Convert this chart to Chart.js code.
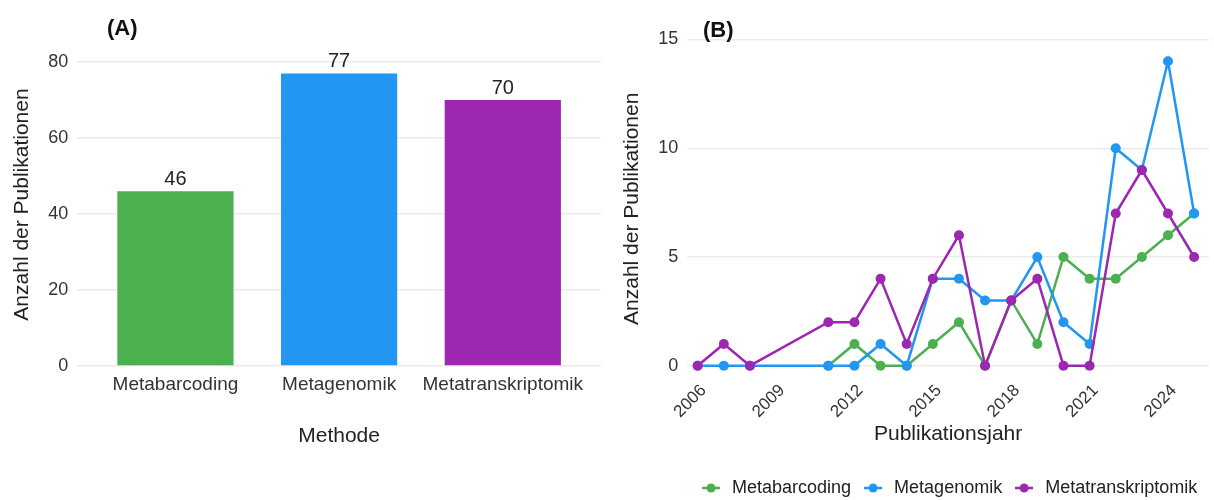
<!DOCTYPE html>
<html>
<head>
<meta charset="utf-8">
<script src="https://cdn.jsdelivr.net/npm/chart.js@4"></script>
<style>
  body { margin: 0; background: #fff; width: 1214px; height: 500px; position: relative; overflow: hidden; }
  .panel { position: absolute; top: 0; height: 500px; }
  .tag { position: absolute; font: bold 22px/1 'Liberation Sans', Arial, sans-serif; color: #111; }
</style>
</head>
<body>
<div class="panel" style="left:0;width:610px"><canvas id="chartA"></canvas></div>
<div class="panel" style="left:610px;width:604px"><canvas id="chartB"></canvas></div>
<div class="tag" style="left:107px;top:17px">(A)</div>
<div class="tag" style="left:703px;top:19px">(B)</div>
<script>
// Panel A: Gesamtzahl je Methode
const methods = ['Metabarcoding', 'Metagenomik', 'Metatranskriptomik'];
const methodCounts = [46, 77, 70];
const methodColors = ['#4CAF50', '#2196F3', '#9C27B0'];

// Panel B: Publikationen pro Jahr (2009/2010 ohne Daten)
const years = [2006, 2007, 2008, 2011, 2012, 2013, 2014, 2015, 2016, 2017, 2018, 2019, 2020, 2021, 2022, 2023, 2024, 2025];
const metabarcoding = [null, null, null, 0, 1, 0, 0, 1, 2, 0, 3, 1, 5, 4, 4, 5, 6, 7];
const metagenomik = [0, 0, 0, 0, 0, 1, 0, 4, 4, 3, 3, 5, 2, 1, 10, 9, 14, 7];
const metatranskriptomik = [0, 1, 0, 2, 2, 4, 1, 4, 6, 0, 3, 4, 0, 0, 7, 9, 7, 5];
const yearTicks = [2006, 2009, 2012, 2015, 2018, 2021, 2024];

Chart.defaults.font.family = "'Liberation Sans', Arial, sans-serif";
Chart.defaults.color = '#333';

const gridColor = '#ebebeb';
const titleColor = '#222';

// Werte über den Balken
const barLabels = {
    id: 'barLabels',
    afterDatasetsDraw(chart) {
        const ctx = chart.ctx;
        const meta = chart.getDatasetMeta(0);
        ctx.save();
        ctx.font = "20px 'Liberation Sans', Arial, sans-serif";
        ctx.fillStyle = '#222';
        ctx.textAlign = 'center';
        ctx.textBaseline = 'alphabetic';
        meta.data.forEach((bar, i) => {
            ctx.fillText(methodCounts[i], bar.x, bar.y - 6);
        });
        ctx.restore();
    }
};

new Chart(document.getElementById('chartA'), {
    type: 'bar',
    data: {
        datasets: [{
            data: methodCounts.map((v, i) => ({ x: i + 1, y: v })),
            backgroundColor: methodColors,
            categoryPercentage: 1,
            barPercentage: 0.71
        }]
    },
    options: {
        responsive: true,
        maintainAspectRatio: false,
        animation: false,
        layout: { padding: { left: 6, right: 9, top: 43, bottom: 47 } },
        plugins: { legend: { display: false }, tooltip: { enabled: false } },
        scales: {
            x: {
                type: 'linear',
                offset: false,
                min: 0.4,
                max: 3.6,
                afterBuildTicks: (scale) => { scale.ticks = methods.map((m, i) => ({ value: i + 1 })); },
                ticks: { callback: (v) => methods[v - 1], font: { size: 19 }, padding: 7, maxRotation: 0, autoSkip: false },
                grid: { display: false, drawTicks: false },
                border: { display: false },
                title: { display: true, text: 'Methode', color: titleColor, font: { size: 21 }, padding: { top: 21, bottom: 4 } }
            },
            y: {
                min: 0,
                max: 85,
                afterBuildTicks: (scale) => { scale.ticks = [0, 20, 40, 60, 80].map(v => ({ value: v })); },
                ticks: { font: { size: 18 }, padding: 9 },
                grid: { color: gridColor, lineWidth: 1.5, drawTicks: false },
                border: { display: false },
                title: { display: true, text: 'Anzahl der Publikationen', color: titleColor, font: { size: 21 }, padding: { top: 4, bottom: 4 } }
            }
        }
    },
    plugins: [barLabels]
});

// Legendensymbol wie bei ggplot: kurze Linie mit Punkt
function legendKey(color) {
    const c = document.createElement('canvas');
    c.width = 18;
    c.height = 12;
    const g = c.getContext('2d');
    g.strokeStyle = color;
    g.lineWidth = 2.5;
    g.beginPath();
    g.moveTo(0, 6);
    g.lineTo(18, 6);
    g.stroke();
    g.fillStyle = color;
    g.beginPath();
    g.arc(9, 6, 4.5, 0, Math.PI * 2);
    g.fill();
    return c;
}

function series(label, values, color, order) {
    return {
        label: label,
        data: years.map((y, i) => ({ x: y, y: values[i] })),
        borderColor: color,
        backgroundColor: color,
        pointBackgroundColor: color,
        borderWidth: 2.5,
        pointRadius: 5,
        pointBorderWidth: 0,
        spanGaps: true,
        tension: 0,
        order: order
    };
}

const lineColors = ['#4CAF50', '#2196F3', '#9C27B0'];
const keys = lineColors.map(legendKey);

new Chart(document.getElementById('chartB'), {
    type: 'line',
    data: {
        datasets: [
            series('Metabarcoding', metabarcoding, lineColors[0], 3),
            series('Metagenomik', metagenomik, lineColors[1], 2),
            series('Metatranskriptomik', metatranskriptomik, lineColors[2], 1)
        ]
    },
    options: {
        responsive: true,
        maintainAspectRatio: false,
        animation: false,
        layout: { padding: { left: 6, right: 3, top: 33, bottom: -7 } },
        plugins: {
            tooltip: { enabled: false },
            legend: {
                position: 'bottom',
                fullSize: false,
                labels: {
                    usePointStyle: true,
                    pointStyleWidth: 24,
                    boxHeight: 12,
                    padding: 10,
                    color: '#222',
                    font: { size: 18 },
                    generateLabels: (chart) => Chart.defaults.plugins.legend.labels.generateLabels(chart)
                        .map(item => Object.assign(item, { pointStyle: keys[item.datasetIndex] })),
                    sort: (a, b) => a.datasetIndex - b.datasetIndex
                }
            }
        },
        scales: {
            x: {
                type: 'linear',
                min: 2005.6,
                max: 2025.57,
                afterBuildTicks: (scale) => { scale.ticks = yearTicks.map(v => ({ value: v })); },
                ticks: { callback: (v) => String(v), font: { size: 17 }, padding: -4, labelOffset: 6, minRotation: 45, maxRotation: 45, autoSkip: false },
                grid: { display: false, drawTicks: false },
                border: { display: false },
                title: { display: true, text: 'Publikationsjahr', color: titleColor, font: { size: 21 }, padding: { top: 4, bottom: 22 } }
            },
            y: {
                min: -0.87,
                max: 15.3,
                afterBuildTicks: (scale) => { scale.ticks = [0, 5, 10, 15].map(v => ({ value: v })); },
                ticks: { font: { size: 18 }, padding: 9 },
                grid: { color: gridColor, lineWidth: 1.5, drawTicks: false },
                border: { display: false },
                title: { display: true, text: 'Anzahl der Publikationen', color: titleColor, font: { size: 21 }, padding: { top: 4, bottom: 4 } }
            }
        }
    }
});
</script>
</body>
</html>
